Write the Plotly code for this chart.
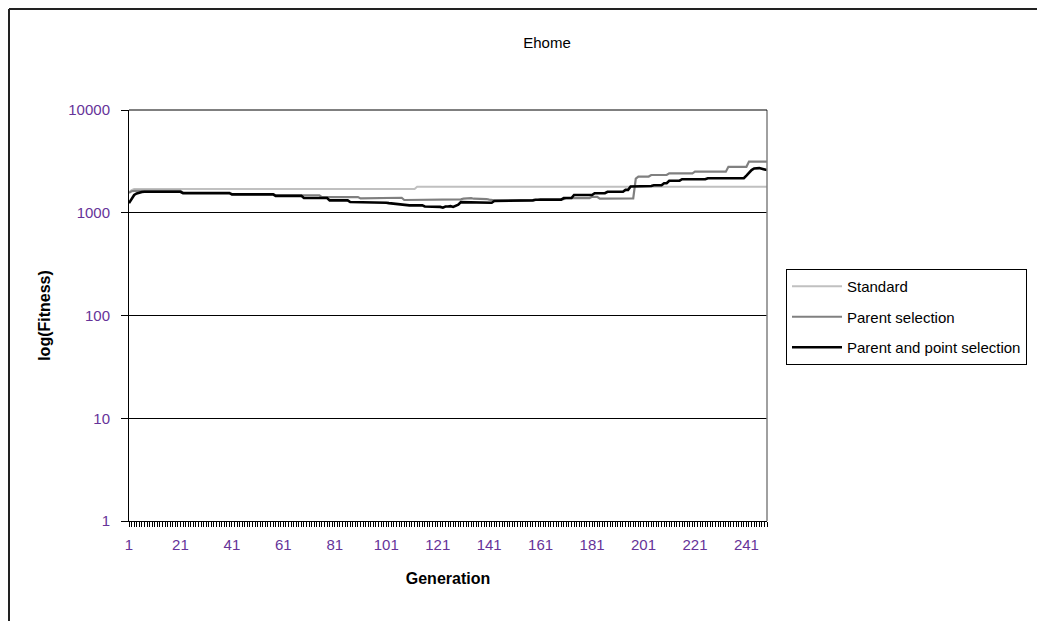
import plotly.graph_objects as go

# ---------------- data ----------------
generations = list(range(1, 250))

standard = [
    1580, 1660, 1700, 1700, 1700, 1700, 1700, 1700, 1700, 1700,
    1700, 1700, 1700, 1700, 1700, 1700, 1700, 1700, 1700, 1700,
    1700, 1700, 1700, 1700, 1700, 1700, 1700, 1700, 1700, 1700,
    1700, 1700, 1700, 1700, 1700, 1700, 1700, 1700, 1700, 1700,
    1700, 1700, 1700, 1700, 1700, 1700, 1700, 1700, 1700, 1700,
    1700, 1700, 1700, 1700, 1700, 1700, 1700, 1700, 1700, 1700,
    1700, 1700, 1700, 1700, 1700, 1700, 1700, 1700, 1700, 1700,
    1700, 1700, 1700, 1700, 1700, 1700, 1700, 1700, 1700, 1700,
    1700, 1700, 1700, 1700, 1700, 1700, 1700, 1700, 1700, 1700,
    1700, 1700, 1700, 1700, 1700, 1700, 1700, 1700, 1700, 1700,
    1700, 1700, 1700, 1700, 1700, 1700, 1700, 1700, 1700, 1700,
    1700, 1700, 1790, 1790, 1790, 1790, 1790, 1790, 1790, 1790,
    1790, 1790, 1790, 1790, 1790, 1790, 1790, 1790, 1790, 1790,
    1790, 1790, 1790, 1790, 1790, 1790, 1790, 1790, 1790, 1790,
    1790, 1790, 1790, 1790, 1790, 1790, 1790, 1790, 1790, 1790,
    1790, 1790, 1790, 1790, 1790, 1790, 1790, 1790, 1790, 1790,
    1790, 1790, 1790, 1790, 1790, 1790, 1790, 1790, 1790, 1790,
    1790, 1790, 1790, 1790, 1790, 1790, 1790, 1790, 1790, 1790,
    1790, 1790, 1790, 1790, 1790, 1790, 1790, 1790, 1790, 1790,
    1790, 1790, 1790, 1790, 1790, 1790, 1790, 1790, 1790, 1790,
    1790, 1790, 1790, 1790, 1790, 1790, 1790, 1790, 1790, 1790,
    1790, 1790, 1790, 1790, 1790, 1790, 1790, 1790, 1790, 1790,
    1790, 1790, 1790, 1790, 1790, 1790, 1790, 1790, 1790, 1790,
    1790, 1790, 1790, 1790, 1790, 1790, 1790, 1790, 1790, 1790,
    1790, 1790, 1790, 1790, 1790, 1790, 1790, 1790, 1790,
]

parent_selection = [
    1560, 1620, 1630, 1630, 1630, 1630, 1630, 1630, 1630, 1630,
    1630, 1630, 1630, 1630, 1630, 1630, 1630, 1630, 1630, 1630,
    1630, 1570, 1570, 1570, 1570, 1570, 1570, 1570, 1570, 1570,
    1570, 1570, 1570, 1570, 1570, 1570, 1570, 1570, 1570, 1570,
    1520, 1520, 1520, 1520, 1520, 1520, 1520, 1520, 1520, 1520,
    1520, 1520, 1520, 1520, 1520, 1520, 1520, 1480, 1480, 1480,
    1480, 1480, 1480, 1480, 1480, 1480, 1480, 1480, 1480, 1480,
    1480, 1480, 1480, 1480, 1480, 1420, 1420, 1420, 1420, 1420,
    1420, 1420, 1420, 1420, 1420, 1420, 1420, 1420, 1420, 1420,
    1380, 1380, 1380, 1380, 1380, 1380, 1380, 1380, 1380, 1380,
    1400, 1400, 1400, 1400, 1400, 1400, 1400, 1330, 1330, 1330,
    1330, 1330, 1330, 1330, 1330, 1350, 1350, 1350, 1350, 1350,
    1350, 1350, 1350, 1350, 1350, 1350, 1350, 1350, 1350, 1350,
    1370, 1380, 1370, 1390, 1370, 1370, 1380, 1370, 1370, 1360,
    1340, 1320, 1320, 1320, 1320, 1320, 1320, 1320, 1320, 1320,
    1330, 1330, 1330, 1330, 1330, 1330, 1330, 1330, 1330, 1330,
    1360, 1360, 1360, 1360, 1360, 1360, 1360, 1360, 1360, 1360,
    1390, 1390, 1390, 1390, 1390, 1390, 1390, 1390, 1390, 1390,
    1430, 1430, 1430, 1370, 1370, 1370, 1370, 1370, 1370, 1370,
    1370, 1370, 1370, 1370, 1370, 1370, 1380, 2150, 2250, 2250,
    2250, 2250, 2250, 2330, 2330, 2330, 2330, 2330, 2330, 2330,
    2420, 2420, 2420, 2420, 2420, 2420, 2420, 2420, 2420, 2420,
    2510, 2510, 2510, 2510, 2510, 2510, 2510, 2510, 2510, 2510,
    2510, 2510, 2510, 2800, 2800, 2800, 2800, 2800, 2800, 2800,
    2800, 3150, 3150, 3150, 3150, 3150, 3150, 3150, 3150,
]

parent_point_selection = [
    1240, 1380, 1490, 1540, 1570, 1590, 1600, 1600, 1600, 1600,
    1600, 1600, 1600, 1600, 1600, 1600, 1600, 1600, 1600, 1600,
    1600, 1550, 1550, 1550, 1550, 1550, 1550, 1550, 1550, 1550,
    1550, 1550, 1550, 1550, 1550, 1550, 1550, 1550, 1550, 1550,
    1510, 1510, 1510, 1510, 1510, 1510, 1510, 1510, 1510, 1510,
    1510, 1510, 1510, 1510, 1510, 1510, 1510, 1460, 1460, 1460,
    1460, 1460, 1460, 1460, 1460, 1460, 1460, 1460, 1390, 1390,
    1390, 1390, 1390, 1390, 1390, 1390, 1390, 1390, 1320, 1320,
    1320, 1320, 1320, 1320, 1320, 1320, 1270, 1270, 1270, 1270,
    1270, 1270, 1270, 1270, 1270, 1270, 1270, 1270, 1270, 1270,
    1250, 1240, 1230, 1220, 1210, 1200, 1190, 1180, 1180, 1180,
    1180, 1180, 1180, 1180, 1180, 1150, 1150, 1150, 1150, 1150,
    1150, 1140, 1120, 1150, 1150, 1160, 1140, 1160, 1200, 1270,
    1270, 1270, 1270, 1270, 1270, 1270, 1270, 1250, 1250, 1250,
    1250, 1250, 1300, 1300, 1300, 1300, 1300, 1300, 1300, 1320,
    1320, 1320, 1320, 1320, 1320, 1320, 1320, 1320, 1340, 1340,
    1340, 1340, 1340, 1340, 1340, 1340, 1340, 1340, 1340, 1390,
    1390, 1390, 1390, 1490, 1490, 1490, 1490, 1490, 1490, 1490,
    1490, 1550, 1550, 1550, 1550, 1550, 1600, 1600, 1600, 1600,
    1600, 1600, 1600, 1670, 1670, 1800, 1800, 1800, 1800, 1800,
    1800, 1820, 1820, 1820, 1850, 1850, 1850, 1850, 1940, 1940,
    2050, 2050, 2050, 2050, 2050, 2120, 2120, 2120, 2120, 2120,
    2120, 2120, 2120, 2120, 2120, 2170, 2170, 2170, 2170, 2170,
    2170, 2170, 2170, 2170, 2170, 2170, 2170, 2170, 2170, 2170,
    2300, 2450, 2600, 2700, 2720, 2720, 2680, 2650, 2600,
]

y_ticks = [1, 10, 100, 1000, 10000]
y_tick_labels = ["1", "10", "100", "1000", "10000"]
x_ticks = list(range(1, 250, 20))
x_tick_labels = [str(v) for v in x_ticks]

# ---------------- figure ----------------
FONT = "Liberation Sans, Arial, sans-serif"
TICK_COLOR = "#663399"

fig = go.Figure()
fig.add_trace(go.Scatter(x=generations, y=standard, mode="lines", name="Standard",
                         legendgroup="a", line=dict(color="#C0C0C0", width=2)))
fig.add_trace(go.Scatter(x=generations, y=parent_selection, mode="lines", name="Parent selection",
                         legendgroup="b", line=dict(color="#808080", width=2.2)))
fig.add_trace(go.Scatter(x=generations, y=parent_point_selection, mode="lines",
                         name="Parent and point selection",
                         legendgroup="c", line=dict(color="#000000", width=2.6)))

# the page has an 8px body margin: figure pixel = page pixel - 8
OFF = 8
W, H = 1045 - OFF, 621 - OFF
L, R, T, B = 129 - OFF, 767 - OFF, 110 - OFF, 521 - OFF
pw, ph = R - L, B - T

def px_x(page_px):
    return (page_px - OFF - L) / pw

def px_y(page_py):
    return (B - (page_py - OFF)) / ph

fig.update_layout(
    width=W, height=H,
    margin=dict(l=L, r=W - R, t=T, b=H - B, autoexpand=False),
    paper_bgcolor="white", plot_bgcolor="white",
    font=dict(family=FONT, size=15, color="black"),
    title=dict(text="Ehome", x=(547 - OFF) / W, xanchor="center", y=1 - (43 - OFF) / H, yanchor="middle",
               font=dict(family=FONT, size=15, color="black")),
    showlegend=True,
    legend=dict(x=px_x(786), y=px_y(269), xanchor="left", yanchor="top",
                bordercolor="black", borderwidth=1, bgcolor="white",
                font=dict(family=FONT, size=15, color="black"),
                traceorder="grouped", tracegroupgap=8, itemwidth=50),
    xaxis=dict(
        type="linear", range=[1, 249],
        tickmode="array", tickvals=x_ticks, ticktext=x_tick_labels,
        ticks="outside", ticklen=5, tickcolor="black", tickwidth=1,
        minor=dict(dtick=1, tick0=1, ticks="outside", ticklen=5, tickcolor="black", tickwidth=1, showgrid=False),
        showgrid=False, zeroline=False,
        showline=True, linecolor="black", linewidth=1,
        tickfont=dict(family=FONT, size=15, color=TICK_COLOR),
        ticklabelstandoff=5,
        title=dict(text="<b>Generation</b>", font=dict(family=FONT, size=16, color="black"), standoff=20),
    ),
    yaxis=dict(
        type="log", range=[0, 4],
        tickmode="array", tickvals=y_ticks, ticktext=y_tick_labels,
        ticks="outside", ticklen=7, tickcolor="black", tickwidth=1,
        showgrid=True, gridcolor="black", gridwidth=1,
        zeroline=False, showline=True, linecolor="black", linewidth=1,
        tickfont=dict(family=FONT, size=15, color=TICK_COLOR),
        ticklabelstandoff=8,
        title=dict(text="<b>log(Fitness)</b>", font=dict(family=FONT, size=16, color="black"), standoff=13),
    ),
    shapes=[
        # gray right border of plot area
        dict(type="line", xref="paper", yref="paper", x0=1, x1=1, y0=0, y1=1,
             line=dict(color="#808080", width=1.5)),
        # top border of plot area
        dict(type="line", xref="paper", yref="paper", x0=0, x1=1, y0=1, y1=1,
             line=dict(color="black", width=1)),
        # outer chart frame (left and top edges visible)
        dict(type="line", xref="paper", yref="paper", x0=px_x(9), x1=px_x(9), y0=px_y(9), y1=px_y(660),
             line=dict(color="#222222", width=2)),
        dict(type="line", xref="paper", yref="paper", x0=px_x(9), x1=px_x(1080), y0=px_y(9), y1=px_y(9),
             line=dict(color="#222222", width=2)),
    ],
)

fig.write_html("out.html")
